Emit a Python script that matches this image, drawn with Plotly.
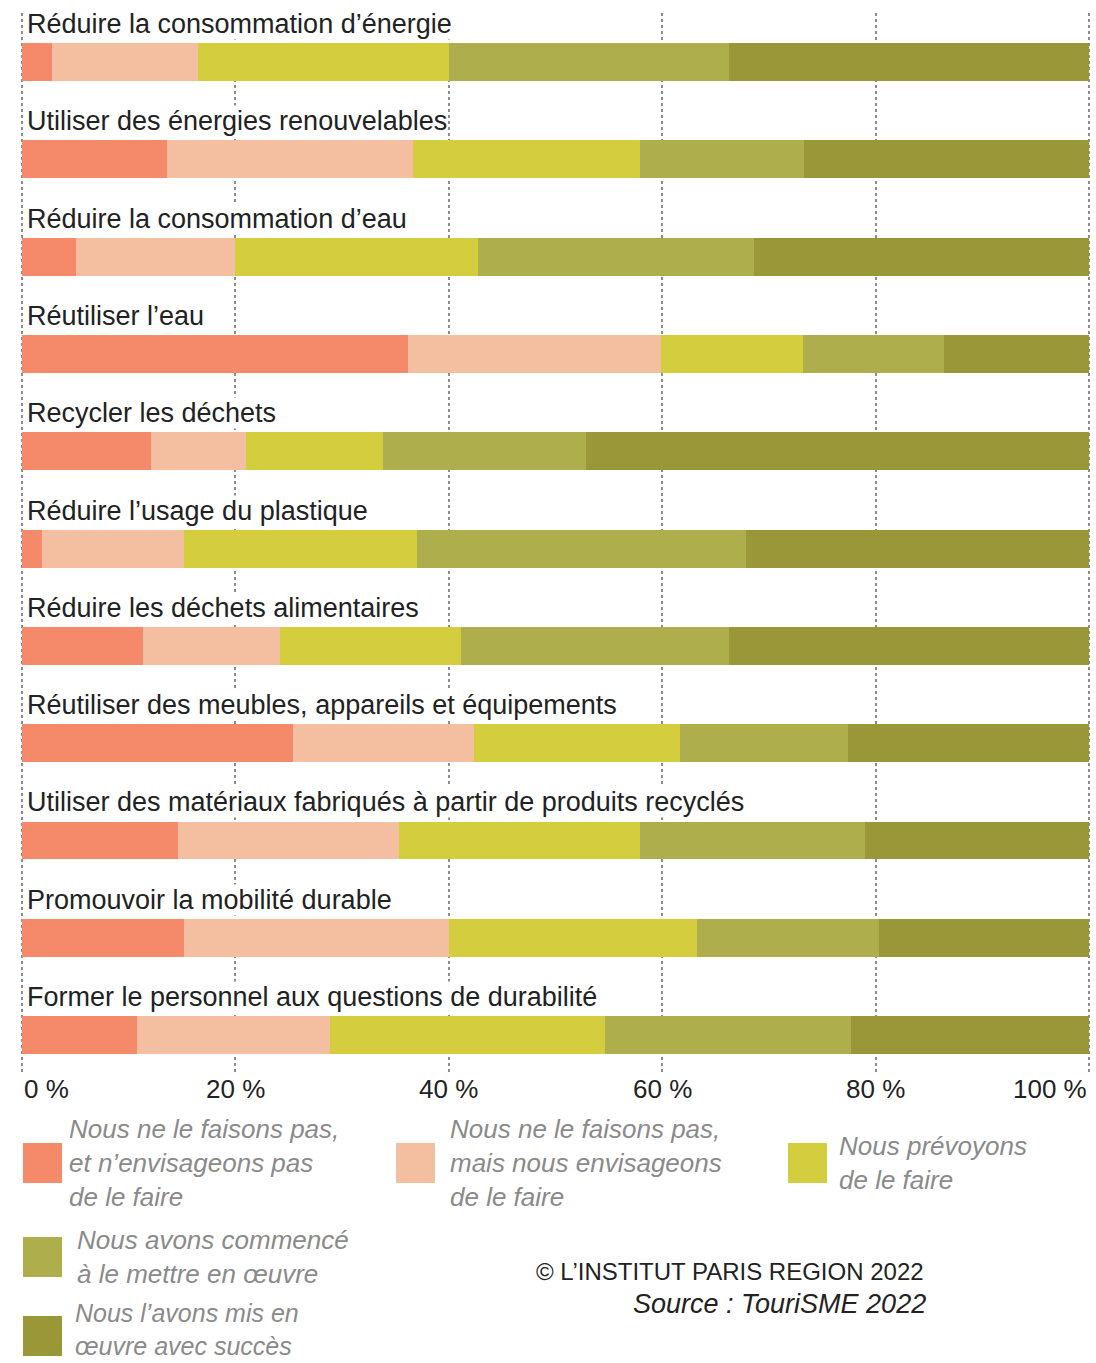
import plotly.graph_objects as go

categories = [
    "Réduire la consommation d’énergie",
    "Utiliser des énergies renouvelables",
    "Réduire la consommation d’eau",
    "Réutiliser l’eau",
    "Recycler les déchets",
    "Réduire l’usage du plastique",
    "Réduire les déchets alimentaires",
    "Réutiliser des meubles, appareils et équipements",
    "Utiliser des matériaux fabriqués à partir de produits recyclés",
    "Promouvoir la mobilité durable",
    "Former le personnel aux questions de durabilité",
]

series_names = [
    "Nous ne le faisons pas,<br>et n’envisageons pas<br>de le faire",
    "Nous ne le faisons pas,<br>mais nous envisageons<br>de le faire",
    "Nous prévoyons<br>de le faire",
    "Nous avons commencé<br>à le mettre en œuvre",
    "Nous l’avons mis en<br>œuvre avec succès",
]

pas_envisage = [2.8, 13.6, 5.1, 36.2, 12.1, 1.9, 11.3, 25.4, 14.6, 15.2, 10.8]
envisage = [13.7, 23.0, 14.9, 23.7, 8.9, 13.3, 12.9, 17.0, 20.7, 24.8, 18.1]
prevoyons = [23.5, 21.3, 22.7, 13.3, 12.8, 21.8, 16.9, 19.3, 22.6, 23.3, 25.7]
commence = [26.3, 15.4, 25.9, 13.2, 19.1, 30.9, 25.2, 15.7, 21.1, 17.0, 23.1]
succes = [33.7, 26.7, 31.4, 13.6, 47.1, 32.1, 33.7, 22.6, 21.0, 19.7, 22.3]

tick_values = [0, 20, 40, 60, 80, 100]
tick_labels = ["0 %", "20 %", "40 %", "60 %", "80 %", "100 %"]

colors = ["#F48A6A", "#F4BFA0", "#D4CE3F", "#AFAE4C", "#9A9738"]
series_values = [pas_envisage, envisage, prevoyons, commence, succes]

FONT = "Liberation Sans, Arial, sans-serif"
W, H = 1096, 1363
ML, MR, MT, MB = 21, 6, 13, 288
PW = W - ML - MR
PH = H - MT - MB


def px(x):
    return (x - ML) / PW


def py(y):
    return (H - MB - y) / PH


fig = go.Figure()
for name, vals, col in zip(series_names, series_values, colors):
    fig.add_trace(go.Bar(
        y=categories, x=vals, name=name, orientation="h",
        marker=dict(color=col, line=dict(width=0)),
        width=0.39, showlegend=False, hoverinfo="x+y",
    ))

annotations = []
for cat in categories:
    annotations.append(dict(
        x=0, y=cat, xref="x", yref="y", text=cat, showarrow=False,
        xanchor="left", yanchor="middle", xshift=4, yshift=38,
        font=dict(family=FONT, size=27, color="#222222"),
        bgcolor="rgba(255,255,255,1)", borderpad=0,
    ))

for v, t in zip(tick_values, tick_labels):
    anchor = "left" if v == 0 else ("right" if v == 100 else "center")
    annotations.append(dict(
        x=v, y=0, xref="x", yref="paper", text=t, showarrow=False,
        xanchor=anchor, yanchor="top", yshift=3,
        font=dict(family=FONT, size=26, color="#222222"),
    ))

legend_items = [
    (23, 1143, 67, 1163, 26),
    (396, 1143, 448, 1163, 26),
    (788, 1143, 837, 1163, 26),
    (23, 1237, 75, 1257, 26),
    (23, 1316, 73, 1329, 25),
]
shapes = []
for (sx, sy, tx, ty, fs), name, col in zip(legend_items, series_names, colors):
    shapes.append(dict(
        type="rect", xref="paper", yref="paper",
        x0=px(sx), x1=px(sx + 39), y0=py(sy), y1=py(sy + 40),
        fillcolor=col, line=dict(width=0),
    ))
    annotations.append(dict(
        x=px(tx), y=py(ty), xref="paper", yref="paper", text="<i>" + name + "</i>",
        showarrow=False, xanchor="left", yanchor="middle", align="left",
        font=dict(family=FONT, size=fs, color="#8A8A8A"),
    ))

annotations.append(dict(
    x=px(926), y=py(1271), xref="paper", yref="paper",
    text="© L’INSTITUT PARIS REGION 2022", showarrow=False,
    xanchor="right", yanchor="middle",
    font=dict(family=FONT, size=24, color="#222222"),
))
annotations.append(dict(
    x=px(928), y=py(1304), xref="paper", yref="paper",
    text="<i>Source : TouriSME 2022</i>", showarrow=False,
    xanchor="right", yanchor="middle",
    font=dict(family=FONT, size=27, color="#222222"),
))

fig.update_layout(
    barmode="stack",
    width=W, height=H,
    margin=dict(l=ML, r=MR, t=MT, b=MB, pad=0, autoexpand=False),
    paper_bgcolor="white", plot_bgcolor="white",
    font=dict(family=FONT),
    xaxis=dict(
        range=[-0.1, 100.1], tickvals=tick_values, showticklabels=False,
        showgrid=True, gridcolor="#8C8C8C", gridwidth=1.5, griddash="dot",
        zeroline=False, showline=False, fixedrange=True,
    ),
    yaxis=dict(
        range=[10.41, -0.504], showticklabels=False, showgrid=False,
        zeroline=False, showline=False, fixedrange=True,
    ),
    annotations=annotations,
    shapes=shapes,
    bargap=0,
)

fig.write_html(
    "out.html",
    config={"displayModeBar": False},
    post_script="document.body.style.margin='0px';",
)
